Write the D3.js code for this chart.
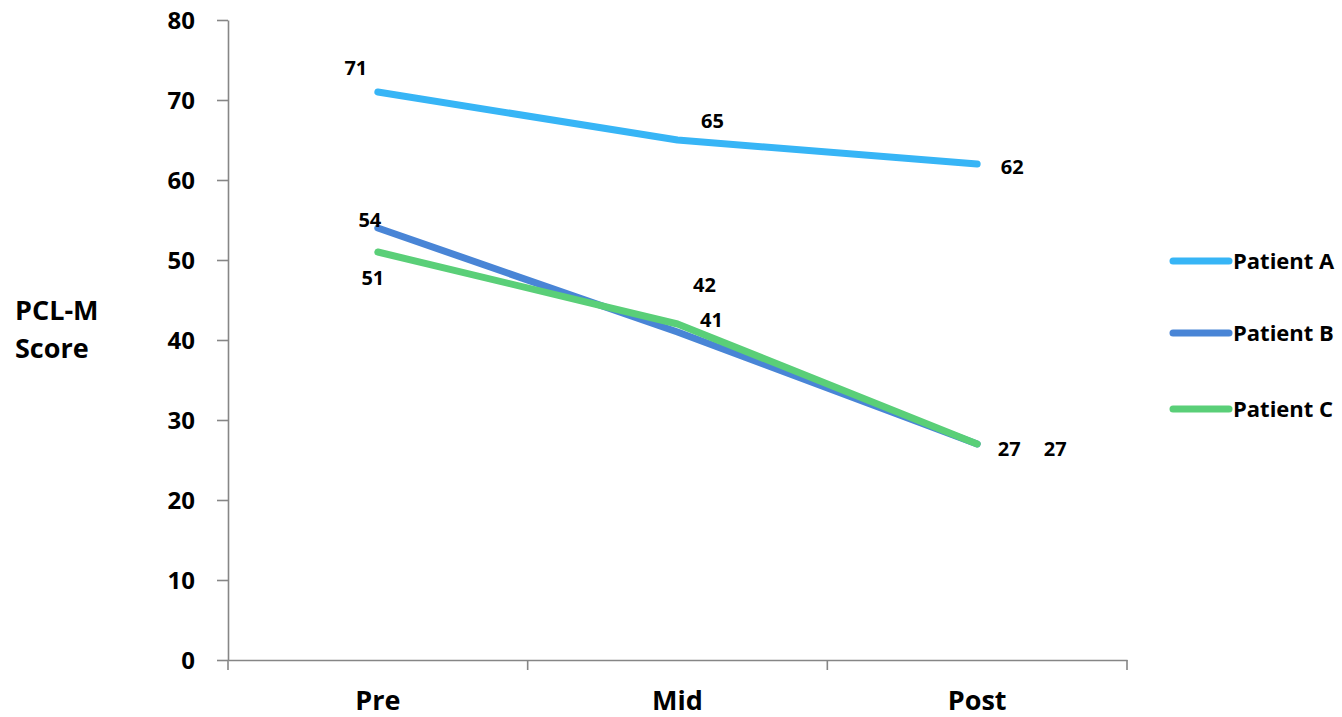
<!DOCTYPE html>
<html>
<head>
<meta charset="utf-8">
<script src="https://cdn.jsdelivr.net/npm/d3@7"></script>
<style>
  html, body { margin: 0; padding: 0; background: #fff; }
  svg { display: block; font-family: "Open Sans", "DejaVu Sans", sans-serif; font-weight: bold; }
</style>
</head>
<body>
<svg id="chart" width="1342" height="717"></svg>
<script>
const categories = ["Pre", "Mid", "Post"];
const seriesNames = ["Patient A", "Patient B", "Patient C"];
const patientA = [71, 65, 62];
const patientB = [54, 41, 27];
const patientC = [51, 42, 27];
const yTicks = [0, 10, 20, 30, 40, 50, 60, 70, 80];
const yTitle = ["PCL-M", "Score"];

const colors = ["#37B5F6", "#4985D6", "#5ACF78"];
// label offsets (dx, dy) relative to each point, per series
const labelOffsets = [
  [[-22, -17], [35, -12], [35, 10]],
  [[-8, -1], [34, -5], [32, 12]],
  [[-5, 33], [27, -32], [78, 12]]
];

const series = [patientA, patientB, patientC].map((vals, i) => ({
  name: seriesNames[i], values: vals, color: colors[i], offsets: labelOffsets[i]
}));

const svg = d3.select("#chart");
const x0 = 228, x1 = 1127, yTop = 20, yBot = 660;

const x = d3.scaleBand().domain(categories).range([x0, x1]);
const y = d3.scaleLinear().domain([0, 80]).range([yBot, yTop]);

// Y axis
const yAxis = svg.append("g").attr("transform", `translate(${x0},0)`)
  .call(d3.axisLeft(y).tickValues(yTicks).tickSize(11).tickPadding(22).tickSizeOuter(0));
yAxis.select(".domain").attr("stroke", "#868686").attr("stroke-width", 1.6);
yAxis.selectAll(".tick line").attr("stroke", "#868686").attr("stroke-width", 1.6);
yAxis.selectAll(".tick text").attr("font-size", 24).attr("fill", "#000")
  .attr("font-family", "'Open Sans', sans-serif").attr("font-weight", "bold").attr("dy", "0.36em");

// X axis
const xAxis = svg.append("g").attr("transform", `translate(0,${yBot})`)
  .call(d3.axisBottom(x).tickSize(0).tickPadding(31).tickSizeOuter(0));
xAxis.select(".domain").attr("stroke", "#868686").attr("stroke-width", 1.6);
xAxis.selectAll(".tick text").attr("font-size", 27).attr("fill", "#000")
  .attr("font-family", "'Open Sans', sans-serif").attr("font-weight", "bold");
// category boundary ticks
const bounds = categories.map(c => x(c)).concat([x0 + x.bandwidth() * categories.length]);
svg.append("g").selectAll("line").data(bounds).join("line")
  .attr("x1", d => d).attr("x2", d => d)
  .attr("y1", yBot).attr("y2", yBot + 10)
  .attr("stroke", "#868686").attr("stroke-width", 1.6);

// Y title
svg.append("text").attr("x", 15).attr("y", 320).attr("font-size", 27).attr("fill", "#000")
  .selectAll("tspan").data(yTitle).join("tspan")
  .attr("x", 15).attr("dy", (d, i) => i === 0 ? 0 : 38).text(d => d);

// lines
const cx = c => x(c) + x.bandwidth() / 2;
const line = d3.line().x((d, i) => cx(categories[i])).y(d => y(d));
svg.append("g").selectAll("path").data(series).join("path")
  .attr("d", d => line(d.values))
  .attr("fill", "none").attr("stroke", d => d.color).attr("stroke-width", 7)
  .attr("stroke-linecap", "round").attr("stroke-linejoin", "round");

// data labels
series.forEach(s => {
  svg.append("g").selectAll("text").data(s.values).join("text")
    .attr("x", (d, i) => cx(categories[i]) + s.offsets[i][0])
    .attr("y", (d, i) => y(d) + s.offsets[i][1])
    .attr("text-anchor", "middle").attr("font-size", 20).attr("fill", "#000")
    .text(d => d);
});

// legend
const leg = svg.append("g").selectAll("g").data(series).join("g")
  .attr("transform", (d, i) => `translate(1173, ${[261, 333, 409][i]})`);
leg.append("line").attr("x1", 0).attr("x2", 56).attr("y1", 0).attr("y2", 0)
  .attr("stroke", d => d.color).attr("stroke-width", 7).attr("stroke-linecap", "round");
leg.append("text").attr("x", 60).attr("y", 7.5).attr("font-size", 22).attr("fill", "#000")
  .text(d => d.name);
</script>
</body>
</html>
